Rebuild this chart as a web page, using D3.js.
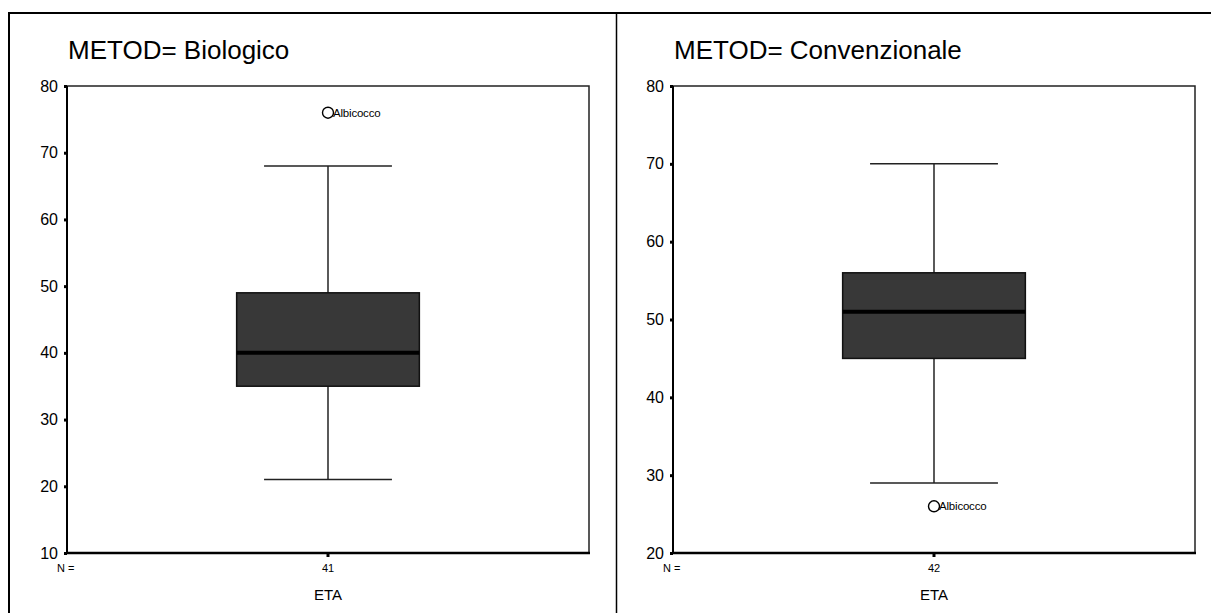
<!DOCTYPE html>
<html>
<head>
<meta charset="utf-8">
<script src="https://cdn.jsdelivr.net/npm/d3@7"></script>
<style>
  body { margin: 0; background: #fff; }
  svg { display: block; font-family: "Liberation Sans", Arial, sans-serif; }
</style>
</head>
<body>
<svg id="chart"></svg>
<script>
// data
var groups = ["Biologico", "Convenzionale"];
var variable = "ETA";
var counts = [41, 42];
var whiskerLow = [21, 29];
var q1 = [35, 45];
var medians = [40, 51];
var q3 = [49, 56];
var whiskerHigh = [68, 70];
var outliers = [76, 26];
var outlierLabels = ["Albicocco", "Albicocco"];
var yDomains = [[10, 80], [20, 80]];
var yTicks = [[10, 20, 30, 40, 50, 60, 70, 80], [20, 30, 40, 50, 60, 70, 80]];

var width = 1211, height = 613;

var svg = d3.select("#chart")
  .attr("width", width)
  .attr("height", height);

// outer frame + divider between the two panels
svg.append("rect")
  .attr("x", 9).attr("y", 13)
  .attr("width", 1220).attr("height", 620)
  .attr("fill", "none").attr("stroke", "#000").attr("stroke-width", 2);
svg.append("line")
  .attr("x1", 616.5).attr("x2", 616.5).attr("y1", 13).attr("y2", height)
  .attr("stroke", "#000").attr("stroke-width", 1.5);

var panelLeft = [67, 673];
var plotW = 522, plotTop = 86, plotBottom = 553;

groups.forEach(function(grp, i) {
  var g = svg.append("g").attr("transform", "translate(" + panelLeft[i] + ",0)");

  var x = d3.scaleBand().domain([variable]).range([0, plotW]);
  var y = d3.scaleLinear().domain(yDomains[i]).range([plotBottom, plotTop]);
  var cx = x(variable) + x.bandwidth() / 2;
  var boxW = plotW * 0.35, capW = plotW * 0.245;

  // title
  g.append("text")
    .attr("x", 1).attr("y", 59)
    .style("font-size", "26px")
    .text("METOD= " + grp);

  // frame top and right
  g.append("path")
    .attr("d", "M0," + plotTop + "H" + plotW + "V" + plotBottom)
    .attr("fill", "none").attr("stroke", "#222").attr("stroke-width", 1.5);

  // y axis
  var ya = g.append("g")
    .call(d3.axisLeft(y).tickValues(yTicks[i]).tickSize(3).tickPadding(6));
  ya.select(".domain").attr("stroke-width", 2).attr("d", "M0," + plotTop + "V" + (plotBottom + 1));
  ya.selectAll(".tick line").attr("stroke-width", 3);
  ya.selectAll(".tick text").style("font-size", "16px").attr("fill", "#000");

  // x axis: N count as tick label
  var xa = g.append("g")
    .attr("transform", "translate(0," + plotBottom + ")")
    .call(d3.axisBottom(x).tickSize(4).tickSizeOuter(0).tickPadding(7)
      .tickFormat(function() { return counts[i]; }));
  xa.select(".domain").attr("stroke-width", 2.5).attr("d", "M-1,0H" + (plotW + 1));
  xa.selectAll(".tick line").attr("stroke-width", 3);
  xa.selectAll(".tick text").style("font-size", "11px").attr("fill", "#000");

  g.append("text")
    .attr("x", -10).attr("y", 572)
    .style("font-size", "11px")
    .text("N =");

  g.append("text")
    .attr("x", cx).attr("y", 600)
    .attr("text-anchor", "middle")
    .style("font-size", "15px")
    .text(variable);

  // whisker stem and caps
  g.append("line")
    .attr("x1", cx).attr("x2", cx)
    .attr("y1", y(whiskerLow[i])).attr("y2", y(whiskerHigh[i]))
    .attr("stroke", "#000").attr("stroke-width", 1.3);
  [whiskerLow[i], whiskerHigh[i]].forEach(function(v) {
    g.append("line")
      .attr("x1", cx - capW / 2).attr("x2", cx + capW / 2)
      .attr("y1", y(v)).attr("y2", y(v))
      .attr("stroke", "#222").attr("stroke-width", 1.5);
  });

  // box
  g.append("rect")
    .attr("x", cx - boxW / 2).attr("width", boxW)
    .attr("y", y(q3[i])).attr("height", y(q1[i]) - y(q3[i]))
    .attr("fill", "#383838").attr("stroke", "#111").attr("stroke-width", 1.5);

  // median
  g.append("line")
    .attr("x1", cx - boxW / 2).attr("x2", cx + boxW / 2)
    .attr("y1", y(medians[i])).attr("y2", y(medians[i]))
    .attr("stroke", "#000").attr("stroke-width", 4);

  // outlier
  g.append("circle")
    .attr("cx", cx).attr("cy", y(outliers[i])).attr("r", 5.5)
    .attr("fill", "none").attr("stroke", "#000").attr("stroke-width", 1.4);
  g.append("text")
    .attr("x", cx + 5).attr("y", y(outliers[i]))
    .attr("dy", "0.35em")
    .style("font-size", "11.5px")
    .style("letter-spacing", "-0.2px")
    .text(outlierLabels[i]);
});
</script>
</body>
</html>
